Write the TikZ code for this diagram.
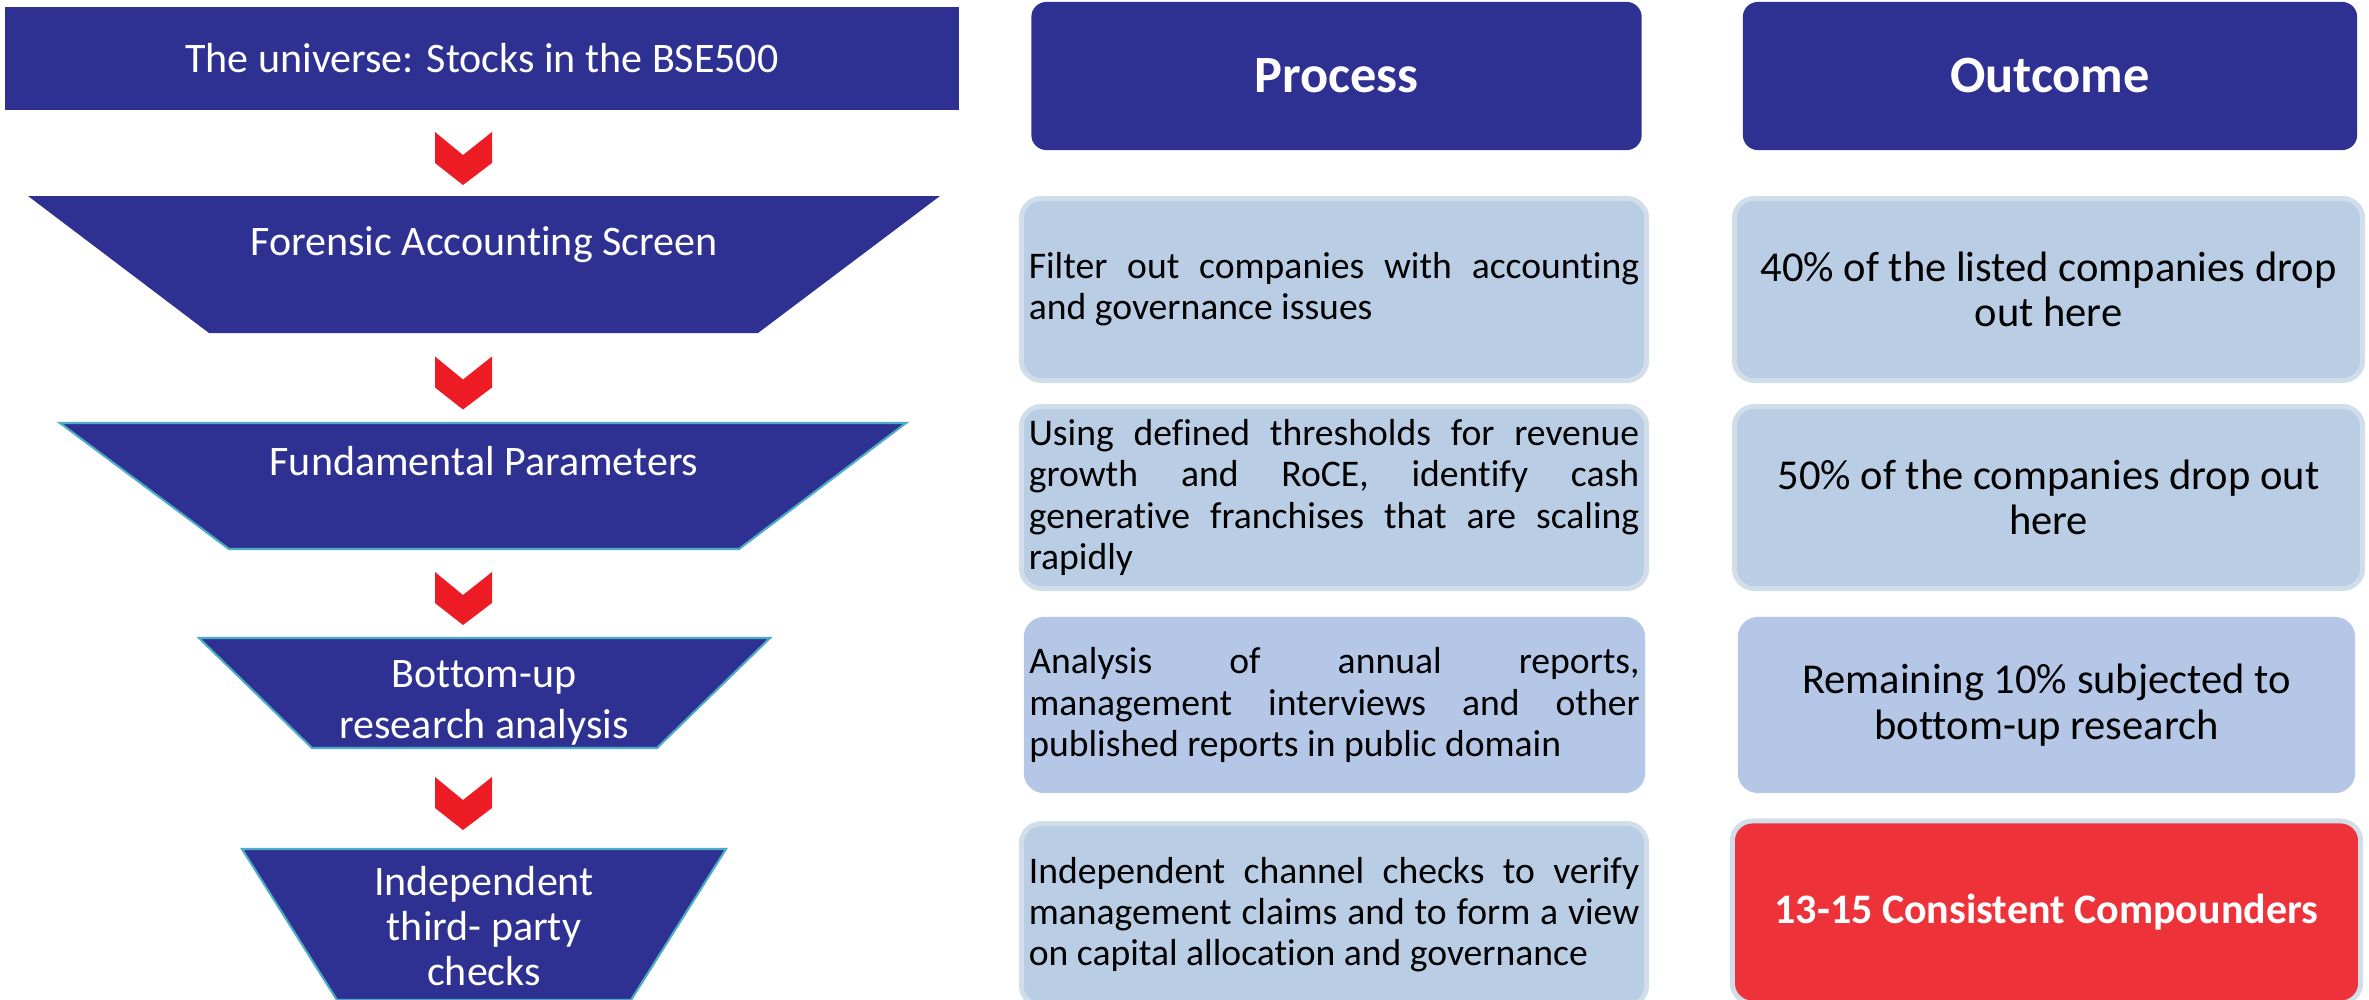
\documentclass[tikz,border=0pt]{standalone}
\usepackage{fontspec}
\setmainfont[Ligatures=CommonOff]{Carlito}
\usepackage{xcolor}
\usetikzlibrary{arrows.meta,positioning}

\definecolor{navy}{HTML}{2E3192}
\definecolor{chevred}{HTML}{ED1C24}
\definecolor{boxblue}{HTML}{B9CDE5}
\definecolor{boxblue2}{HTML}{B4C7E7}
\definecolor{boxedge}{HTML}{D2DDEA}
\definecolor{redbox}{HTML}{EE3239}
\definecolor{trapedge}{HTML}{4BACC6}

\begin{document}
\begin{tikzpicture}[
  x=0.01cm, y=-0.01cm,
  stage/.style={text=white, align=center, font=\fontsize{11.95}{13.6}\selectfont},
  head/.style={fill=navy, rounded corners=0.15cm, text=white, font=\bfseries\fontsize{14.9}{17}\selectfont, minimum width=6.1cm, minimum height=1.48cm},
  procbox/.style={fill=boxblue, draw=boxedge, line width=1.4pt, rounded corners=0.2cm, align=justify, text width=6.1cm, inner sep=0pt, minimum width=6.25cm, minimum height=1.82cm, font=\fontsize{10.7}{11.7}\selectfont},
  outbox/.style={fill=boxblue, draw=boxedge, line width=1.4pt, rounded corners=0.2cm, align=center, inner sep=0pt, minimum width=6.28cm, minimum height=1.82cm, font=\fontsize{12.1}{12.9}\selectfont},
  chev/.pic={\fill[chevred] (-28,-26.5) -- (0,-3.5) -- (29,-26.5) -- (29,4.5) -- (0,26.5) -- (-28,4.5) -- cycle;}
]
\useasboundingbox (0,0) rectangle (2369,1000);

% funnel
\node[fill=navy, minimum width=9.53cm, minimum height=1.03cm, text=white, font=\fontsize{11.95}{13.6}\selectfont] (universe) at (482,58.5) {The universe: Stocks in the BSE500};
\fill[navy] (28,196) -- (940,196) -- (758,333) -- (209,333) -- cycle;
\filldraw[fill=navy, draw=trapedge, line width=0.6pt] (60,423) -- (906,423) -- (739,549) -- (229,549) -- cycle;
\filldraw[fill=navy, draw=trapedge, line width=0.6pt] (199,638) -- (770,638) -- (657,748) -- (312,748) -- cycle;
\filldraw[fill=navy, draw=trapedge, line width=0.6pt] (242,849) -- (726,849) -- (631,1000) -- (337,1000) -- cycle;
\node[stage] (forensic) at (484,245) {Forensic Accounting Screen};
\node[stage] (fundamental) at (484,461) {Fundamental Parameters};
\node[stage, font=\fontsize{11.95}{14.5}\selectfont] (bottomup) at (484,703) {Bottom-up\\research analysis};
\node[stage, font=\fontsize{11.95}{12.8}\selectfont] (thirdparty) at (484,926) {Independent\\third- party\\checks};
\pic at (463,158.5) {chev};
\pic at (463,383) {chev};
\pic at (463,598.5) {chev};
\pic at (463,803.5) {chev};

% headers
\node[head] (process) at (1336.5,76) {Process};
\node[head, minimum width=6.14cm] (outcome) at (2050,76) {Outcome};

% process column
\node[procbox] (proc1) at (1334,289.5) {Filter out companies with accounting\linebreak and governance issues};
\node[procbox] (proc2) at (1334,497.5) {Using defined thresholds for revenue\linebreak growth and RoCE, identify cash\linebreak generative franchises that are scaling\linebreak rapidly};
\node[procbox, fill=boxblue2, draw=none, minimum width=6.21cm, minimum height=1.76cm] (proc3) at (1334.5,705) {Analysis of annual reports,\linebreak management interviews and other\linebreak published reports in public domain};
\node[procbox] (proc4) at (1334,914.5) {Independent channel checks to verify\linebreak management claims and to form a view\linebreak on capital allocation and governance};

% outcome column
\node[outbox] (out1) at (2048.5,289.5) {40\% of the listed companies drop\\out here};
\node[outbox] (out2) at (2048.5,497.5) {50\% of the companies drop out\\here};
\node[outbox, fill=boxblue2, draw=none, minimum width=6.17cm, minimum height=1.76cm] (out3) at (2046.5,705) {Remaining 10\% subjected to\\bottom-up research};
\node[outbox, fill=redbox, text=white, font=\bfseries\fontsize{11.95}{12.9}\selectfont] (out4) at (2046.5,912) {13-15 Consistent Compounders};
\end{tikzpicture}
\end{document}
